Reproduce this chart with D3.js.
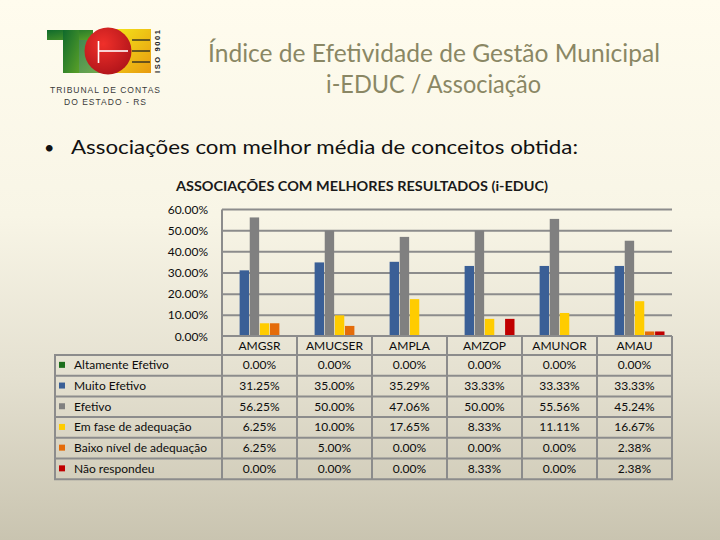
<!DOCTYPE html>
<html>
<head>
<meta charset="utf-8">
<script src="https://cdn.jsdelivr.net/npm/d3@7"></script>
<style>
  html, body { margin: 0; padding: 0; }
  svg { display: block; }
  text { font-family: Lato, "Open Sans", sans-serif; }
</style>
</head>
<body>
<svg id="slide" width="720" height="540"></svg>
<script>
// categories and series from the reference
const categories = ["AMGSR", "AMUCSER", "AMPLA", "AMZOP", "AMUNOR", "AMAU"];
const seriesNames = ["Altamente Efetivo", "Muito Efetivo", "Efetivo", "Em fase de adequação", "Baixo nível de adequação", "Não respondeu"];
const seriesColors = ["#1c6e1c", "#3a5f96", "#808080", "#ffcc00", "#e46c0a", "#c00000"];

const altamente = [0, 0, 0, 0, 0, 0];
const muito = [31.25, 35.00, 35.29, 33.33, 33.33, 33.33];
const efetivo = [56.25, 50.00, 47.06, 50.00, 55.56, 45.24];
const emFase = [6.25, 10.00, 17.65, 8.33, 11.11, 16.67];
const baixo = [6.25, 5.00, 0, 0, 0, 2.38];
const naoResp = [0, 0, 0, 8.33, 0, 2.38];
const seriesValues = [altamente, muito, efetivo, emFase, baixo, naoResp];

const yTicks = [0, 10, 20, 30, 40, 50, 60];

const svg = d3.select("#slide");

// background gradient like the slide template
const defs = svg.append("defs");
const bg = defs.append("linearGradient").attr("id", "bg").attr("x1", 0).attr("y1", 0).attr("x2", 0).attr("y2", 1);
bg.append("stop").attr("offset", "0%").attr("stop-color", "#fffcee");
bg.append("stop").attr("offset", "40%").attr("stop-color", "#f8f5e6");
bg.append("stop").attr("offset", "70%").attr("stop-color", "#e4e0d0");
bg.append("stop").attr("offset", "100%").attr("stop-color", "#c9c4b0");
svg.append("rect").attr("width", 720).attr("height", 540).attr("fill", "url(#bg)");

// ---- logo ----
const logo = svg.append("g");
const gGreen = defs.append("linearGradient").attr("id", "gGreen").attr("x1", 0).attr("y1", 0).attr("x2", 1).attr("y2", 1);
gGreen.append("stop").attr("offset", "0%").attr("stop-color", "#0f6a2c");
gGreen.append("stop").attr("offset", "100%").attr("stop-color", "#5aa028");
const gYellow = defs.append("linearGradient").attr("id", "gYellow").attr("x1", 0).attr("y1", 0).attr("x2", 1).attr("y2", 1);
gYellow.append("stop").attr("offset", "0%").attr("stop-color", "#f4e81a");
gYellow.append("stop").attr("offset", "100%").attr("stop-color", "#e89a10");
const gRed = defs.append("radialGradient").attr("id", "gRed").attr("cx", 0.4).attr("cy", 0.35).attr("r", 0.7);
gRed.append("stop").attr("offset", "0%").attr("stop-color", "#f0302a");
gRed.append("stop").attr("offset", "100%").attr("stop-color", "#b0141a");

logo.append("rect").attr("x", 78).attr("y", 39).attr("width", 30).attr("height", 34).attr("fill", "url(#gGreen)").attr("opacity", 0.8);
logo.append("rect").attr("x", 110).attr("y", 29).attr("width", 41).attr("height", 44).attr("fill", "url(#gYellow)");
logo.append("rect").attr("x", 47).attr("y", 30).attr("width", 46).attr("height", 10).attr("fill", "url(#gGreen)");
logo.append("rect").attr("x", 63).attr("y", 30).attr("width", 16).attr("height", 43).attr("fill", "url(#gGreen)");
logo.append("circle").attr("cx", 108).attr("cy", 51).attr("r", 23.5).attr("fill", "url(#gRed)");
logo.append("line").attr("x1", 98.5).attr("x2", 98.5).attr("y1", 41).attr("y2", 63).attr("stroke", "#fff").attr("stroke-width", 1.6);
logo.append("line").attr("x1", 98.5).attr("x2", 128).attr("y1", 51).attr("y2", 51).attr("stroke", "#fff").attr("stroke-width", 1.6);
[40, 51, 62].forEach(yy => {
  logo.append("line").attr("x1", 132).attr("x2", 150).attr("y1", yy).attr("y2", yy).attr("stroke", "#222").attr("stroke-width", 1.3);
});
logo.append("text").attr("transform", "translate(159.5,73) rotate(-90)")
  .style("font-family", "'Liberation Sans', Arial, sans-serif").attr("font-weight", "bold")
  .attr("font-size", 7.5).attr("fill", "#222").attr("textLength", 43).attr("lengthAdjust", "spacing")
  .text("ISO 9001");
logo.append("text").attr("x", 105).attr("y", 93).attr("text-anchor", "middle")
  .style("font-family", "'Liberation Sans', Arial, sans-serif").attr("font-size", 8.5).attr("fill", "#3a3a3a")
  .attr("textLength", 110).attr("lengthAdjust", "spacing").text("TRIBUNAL DE CONTAS");
logo.append("text").attr("x", 105).attr("y", 105).attr("text-anchor", "middle")
  .style("font-family", "'Liberation Sans', Arial, sans-serif").attr("font-size", 8.5).attr("fill", "#3a3a3a")
  .attr("textLength", 82).attr("lengthAdjust", "spacing").text("DO ESTADO - RS");

// ---- titles ----
svg.append("text").attr("x", 434).attr("y", 62).attr("text-anchor", "middle")
  .attr("font-size", 25).attr("fill", "#8a8764")
  .attr("textLength", 452).attr("lengthAdjust", "spacingAndGlyphs")
  .text("Índice de Efetividade de Gestão Municipal");
svg.append("text").attr("x", 433.5).attr("y", 93).attr("text-anchor", "middle")
  .attr("font-size", 25).attr("fill", "#8a8764")
  .attr("textLength", 215).attr("lengthAdjust", "spacingAndGlyphs")
  .text("i-EDUC / Associação");

svg.append("text").attr("x", 44).attr("y", 154).attr("font-size", 18).attr("fill", "#111").text("•");
svg.append("text").attr("x", 71).attr("y", 154).attr("font-size", 20).attr("fill", "#111")
  .attr("textLength", 507).attr("lengthAdjust", "spacingAndGlyphs")
  .text("Associações com melhor média de conceitos obtida:");

svg.append("text").attr("x", 176).attr("y", 191).attr("font-size", 13).attr("font-weight", "bold").attr("fill", "#1a1a1a")
  .attr("textLength", 372).attr("lengthAdjust", "spacingAndGlyphs")
  .text("ASSOCIAÇÕES COM MELHORES RESULTADOS (i-EDUC)");

// ---- chart ----
const plotLeft = 222, plotRight = 672, plotTop = 209.5, zero = 336.5;
const x = d3.scaleBand().domain(categories).range([plotLeft, plotRight]);
const xs = d3.scaleBand().domain(seriesNames).range([7.5, x.bandwidth() - 7.5]).paddingInner(0.07);
const y = d3.scaleLinear().domain([0, 60]).range([zero, plotTop]);
const gridColor = "#8c8c8c";
const textColor = "#0d0d0d";

const grid = svg.append("g");
grid.selectAll("line").data(yTicks.filter(t => t > 0)).join("line")
  .attr("x1", plotLeft).attr("x2", plotRight)
  .attr("y1", d => y(d)).attr("y2", d => y(d))
  .attr("stroke", gridColor).attr("stroke-width", 2);

svg.append("g").selectAll("text").data(yTicks).join("text")
  .attr("x", 208).attr("y", d => y(d) + 4).attr("text-anchor", "end")
  .attr("font-size", 12).attr("fill", textColor)
  .text(d => d.toFixed(2) + "%");

const bars = svg.append("g");
seriesNames.forEach((s, si) => {
  bars.append("g").selectAll("rect").data(categories).join("rect")
    .attr("x", c => x(c) + xs(s))
    .attr("width", xs.bandwidth())
    .attr("y", (c, i) => y(seriesValues[si][i]))
    .attr("height", (c, i) => zero - y(seriesValues[si][i]))
    .attr("fill", seriesColors[si]);
});

// ---- data table ----
const tableLeft = 55, headTop = 336, headBottom = 355, rowH = 20.7;
const rowsBottom = headBottom + rowH * seriesNames.length;
const tbl = svg.append("g").attr("stroke", gridColor).attr("stroke-width", 2);

// vertical lines
tbl.append("line").attr("x1", plotLeft).attr("x2", plotLeft).attr("y1", plotTop).attr("y2", rowsBottom);
categories.forEach(c => {
  tbl.append("line").attr("x1", x(c) + x.bandwidth()).attr("x2", x(c) + x.bandwidth())
    .attr("y1", headTop).attr("y2", rowsBottom);
});
tbl.append("line").attr("x1", tableLeft).attr("x2", tableLeft).attr("y1", headBottom).attr("y2", rowsBottom);
// horizontal lines
tbl.append("line").attr("x1", plotLeft).attr("x2", plotRight).attr("y1", headTop).attr("y2", headTop);
d3.range(seriesNames.length + 1).forEach(i => {
  const yy = headBottom + i * rowH;
  tbl.append("line").attr("x1", tableLeft - 1).attr("x2", plotRight + 1).attr("y1", yy).attr("y2", yy);
});

svg.append("g").selectAll("text").data(categories).join("text")
  .attr("x", c => x(c) + x.bandwidth() / 2).attr("y", headTop + 14)
  .attr("text-anchor", "middle").attr("font-size", 12).attr("fill", textColor)
  .text(c => c);

seriesNames.forEach((s, si) => {
  const cy = headBottom + si * rowH + rowH / 2;
  svg.append("rect").attr("x", 59).attr("y", cy - 3.5).attr("width", 6).attr("height", 6).attr("fill", seriesColors[si]);
  svg.append("text").attr("x", 74).attr("y", cy + 4).attr("font-size", 12).attr("fill", textColor).text(s);
  svg.append("g").selectAll("text").data(categories).join("text")
    .attr("x", c => x(c) + x.bandwidth() / 2).attr("y", cy + 4)
    .attr("text-anchor", "middle").attr("font-size", 12).attr("fill", textColor)
    .text((c, i) => seriesValues[si][i].toFixed(2) + "%");
});
</script>
</body>
</html>
